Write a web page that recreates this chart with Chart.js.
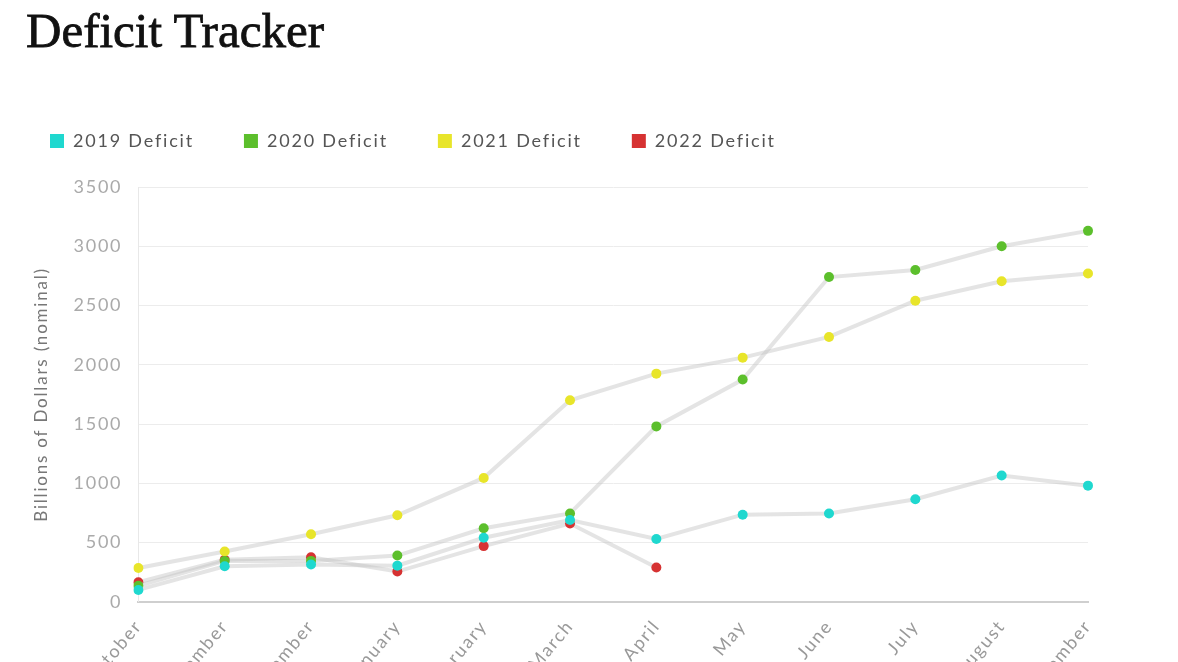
<!DOCTYPE html>
<html>
<head>
<meta charset="utf-8">
<script src="https://cdn.jsdelivr.net/npm/chart.js@4/dist/chart.umd.min.js"></script>
<style>
  html, body { margin: 0; padding: 0; background: #fff; overflow: hidden; width: 1178px; height: 662px; }
  h1 {
    position: absolute; left: 26px; top: 2px; margin: 0;
    font-family: "Liberation Serif", serif; font-weight: normal; font-size: 49px;
    color: #111; letter-spacing: 0px; -webkit-text-stroke: 0.8px #111;
  }
  #wrap { position: absolute; left: 0; top: 82px; width: 1178px; height: 632px; }
</style>
</head>
<body>
<h1>Deficit Tracker</h1>
<div id="wrap"><canvas id="grafico_deficit"></canvas></div>
<script>
// meses do ano fiscal
const meses = ['October', 'November', 'December', 'January', 'February', 'March',
    'April', 'May', 'June', 'July', 'August', 'September']

// deficit acumulado, bilhoes (nominal)
const deficit_2019 = [100, 300, 315, 305, 540, 690, 530, 735, 745, 865, 1065, 980]
const deficit_2020 = [135, 345, 345, 390, 620, 745, 1480, 1875, 2740, 2800, 3000, 3130]
const deficit_2021 = [285, 425, 570, 730, 1045, 1700, 1925, 2060, 2235, 2540, 2705, 2770]
const deficit_2022 = [165, 355, 375, 255, 470, 660, 290]

const series_nomes = ['2019 Deficit', '2020 Deficit', '2021 Deficit', '2022 Deficit']
const series_cores = ['#1fd8cf', '#5cbf2c', '#e8e52a', '#d63232']
const y_ticks = [0, 500, 1000, 1500, 2000, 2500, 3000, 3500]

const fonte = 'Lato, "Noto Sans", sans-serif'
const linha_cinza = 'rgba(195, 195, 195, 0.45)'

function montar_dataset(nome, dados, cor, ordem) {
    return {
        label: nome,
        data: dados,
        borderColor: linha_cinza,
        backgroundColor: cor,
        borderWidth: 4,
        pointRadius: 5,
        pointHoverRadius: 5,
        pointBackgroundColor: cor,
        pointBorderColor: cor,
        pointBorderWidth: 0,
        tension: 0,
        fill: false,
        order: ordem,
    }
}

const todas_series = [deficit_2019, deficit_2020, deficit_2021, deficit_2022]
const datasets = todas_series.map((d, i) => montar_dataset(series_nomes[i], d, series_cores[i], i))

// altura fixa da legenda
const espaco_legenda = {
    id: 'espaco_legenda',
    beforeInit(chart) {
        const fitOriginal = chart.legend.fit
        chart.legend.fit = function () {
            fitOriginal.bind(chart.legend)()
            this.height = 105
        }
    }
}

// texto com letras mais espacadas
const espacamento = {
    id: 'espacamento',
    beforeUpdate(chart) { chart.ctx.letterSpacing = '1.8px' },
    beforeDraw(chart) { chart.ctx.letterSpacing = '1.8px' },
}

const config_deficit = {
    type: 'line',
    data: { labels: meses, datasets: datasets },
    options: {
        responsive: true,
        maintainAspectRatio: false,
        animation: false,
        layout: { padding: { left: 0, right: 90, top: 0, bottom: 0 } },
        plugins: {
            tooltip: { enabled: false },
            legend: {
                position: 'top',
                align: 'start',
                labels: {
                    boxWidth: 14,
                    boxHeight: 14,
                    padding: 50,
                    color: '#555',
                    font: { family: fonte, size: 18 },
                    generateLabels(chart) {
                        return chart.data.datasets.map((ds, i) => ({
                            text: ds.label,
                            fillStyle: ds.backgroundColor,
                            strokeStyle: ds.backgroundColor,
                            lineWidth: 0,
                            fontColor: '#555',
                            datasetIndex: i,
                            hidden: false,
                        }))
                    }
                }
            }
        },
        scales: {
            x: {
                grid: { display: false },
                border: { color: '#cfcfcf', width: 2 },
                ticks: {
                    color: '#999',
                    font: { family: fonte, size: 18 },
                    minRotation: 50,
                    maxRotation: 50,
                    padding: 6,
                }
            },
            y: {
                min: 0,
                max: 3500,
                afterBuildTicks(axis) { axis.ticks = y_ticks.map(v => ({ value: v })) },
                grid: { color: '#ececec', drawTicks: false },
                border: { color: '#e8e8e8', width: 1 },
                ticks: {
                    color: '#aaa',
                    font: { family: fonte, size: 18 },
                    padding: 16,
                    callback: (v) => String(v),
                },
                title: {
                    display: true,
                    text: 'Billions of Dollars (nominal)',
                    color: '#777',
                    font: { family: fonte, size: 17 },
                    padding: { top: 31, bottom: 6 }
                }
            }
        }
    },
    plugins: [espaco_legenda, espacamento]
}

const ctx_deficit = document.getElementById('grafico_deficit')
new Chart(ctx_deficit, config_deficit)
</script>
</body>
</html>
